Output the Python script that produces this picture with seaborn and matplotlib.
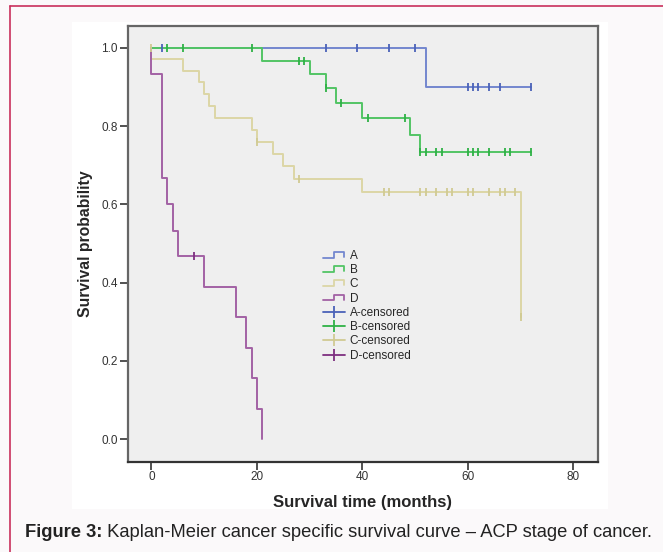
import numpy as np
import pandas as pd
import matplotlib
matplotlib.use("Agg")
import matplotlib.pyplot as plt
import seaborn as sns
from matplotlib.lines import Line2D
from matplotlib.patches import Rectangle
from matplotlib.legend_handler import HandlerBase
from matplotlib.ticker import FormatStrFormatter

# ---------------- data ----------------
groups = ["A", "B", "C", "D"]

a_times = [0, 52, 72]
a_surv = [1.0, 0.900, 0.900]
a_cens_t = [2, 33, 39, 45, 50, 60, 61, 62, 64, 66, 72]
a_cens_s = [1.0, 1.0, 1.0, 1.0, 1.0, 0.9, 0.9, 0.9, 0.9, 0.9, 0.9]

b_times = [0, 21, 30, 33, 35, 40, 49, 51, 72]
b_surv = [1.0, 0.967, 0.933, 0.897, 0.860, 0.820, 0.777, 0.733, 0.733]
b_cens_t = [3, 6, 19, 28, 29, 33, 36, 41, 48, 51, 52, 54, 55, 60, 61, 62, 64, 67, 68, 72]
b_cens_s = [1.0, 1.0, 1.0, 0.967, 0.967, 0.897, 0.860, 0.820, 0.820,
            0.733, 0.733, 0.733, 0.733, 0.733, 0.733, 0.733, 0.733, 0.733, 0.733, 0.733]

c_times = [0, 0, 6, 9, 10, 11, 12, 19, 20, 23, 25, 27, 40, 70]
c_surv = [1.0, 0.972, 0.942, 0.912, 0.882, 0.851, 0.821, 0.790, 0.760,
          0.729, 0.697, 0.664, 0.632, 0.313]
c_cens_t = [0, 20, 28, 44, 45, 51, 52, 54, 56, 57, 60, 61, 64, 66, 67, 69, 70]
c_cens_s = [1.0, 0.760, 0.664, 0.632, 0.632, 0.632, 0.632, 0.632, 0.632,
            0.632, 0.632, 0.632, 0.632, 0.632, 0.632, 0.632, 0.313]

d_times = [0, 0, 2, 3, 4, 5, 10, 16, 18, 19, 20, 21]
d_surv = [1.0, 0.933, 0.667, 0.600, 0.533, 0.467, 0.389, 0.311, 0.233, 0.156, 0.078, 0.0]
d_cens_t = [8]
d_cens_s = [0.467]

x_ticks = [0, 20, 40, 60, 80]
y_ticks = [0.0, 0.2, 0.4, 0.6, 0.8, 1.0]
legend_labels = ["A", "B", "C", "D", "A-censored", "B-censored", "C-censored", "D-censored"]

line_colors = {"A": "#7387cf", "B": "#52c465", "C": "#dcd6a6", "D": "#a262a4"}
cens_colors = {"A": "#4a62b8", "B": "#2fb146", "C": "#d0ca92", "D": "#7e2f80"}

# ---------------- build tables ----------------
curves = pd.concat([
    pd.DataFrame({"time": t, "surv": s, "group": g})
    for g, t, s in zip(groups, [a_times, b_times, c_times, d_times],
                       [a_surv, b_surv, c_surv, d_surv])
], ignore_index=True)
cens = pd.concat([
    pd.DataFrame({"time": t, "surv": s, "group": g})
    for g, t, s in zip(groups, [a_cens_t, b_cens_t, c_cens_t, d_cens_t],
                       [a_cens_s, b_cens_s, c_cens_s, d_cens_s])
], ignore_index=True)

# ---------------- figure ----------------
sns.set_style("white")
plt.rcParams["font.family"] = ["Liberation Sans", "DejaVu Sans"]

W, H = 663, 552
fig = plt.figure(figsize=(W / 100, H / 100), dpi=100)
fig.patch.set_facecolor("#fbf9fa")

# white chart panel
panel = Rectangle((72 / W, 1 - 509 / H), 536 / W, 487 / H,
                  transform=fig.transFigure, facecolor="white",
                  edgecolor="none", zorder=-10)
fig.add_artist(panel)
# pink card border (top + left)
fig.add_artist(Line2D([10 / W, 1.0], [1 - 6 / H, 1 - 6 / H], transform=fig.transFigure,
                      color="#c9305c", lw=1.2))
fig.add_artist(Line2D([10 / W, 10 / W], [0.0, 1 - 6 / H], transform=fig.transFigure,
                      color="#c9305c", lw=1.2))

ax = fig.add_axes([127.7 / W, 1 - 461.7 / H, (597.7 - 127.7) / W, (461.7 - 25.7) / H])
ax.set_zorder(1)
ax.set_facecolor("#efefef")

sns.lineplot(data=curves, x="time", y="surv", hue="group", palette=line_colors,
             estimator=None, sort=False, drawstyle="steps-post", lw=1.4,
             legend=False, ax=ax)
for g in groups:
    sub = cens[cens["group"] == g]
    sns.scatterplot(data=sub, x="time", y="surv", color=cens_colors[g], marker="|",
                    s=34, linewidth=1.3, legend=False, ax=ax, zorder=5)

ax.set_xlim(-4.5, 84.6)
ax.set_ylim(-0.058, 1.057)
ax.set_xticks(x_ticks)
ax.set_yticks(y_ticks)
ax.yaxis.set_major_formatter(FormatStrFormatter("%.1f"))
ax.tick_params(axis="both", which="major", bottom=True, left=True, top=False, right=False,
               direction="out", length=6, width=1.2, color="#333333",
               labelsize=8.5, labelcolor="#333333", pad=1)
for side, sp in ax.spines.items():
    sp.set_visible(True)
    sp.set_color("#666666")
    sp.set_linewidth(1.6)
ax.spines["bottom"].set_color("#333333")

ax.set_xlabel("Survival time (months)", fontsize=12, fontweight="bold", labelpad=8)
ax.set_ylabel("Survival probability", fontsize=11.3, fontweight="bold", labelpad=6)


# ---------------- legend ----------------
class StepHandler(HandlerBase):
    def create_artists(self, legend, orig_handle, xdescent, ydescent, width, height,
                       fontsize, trans):
        x0, y0 = -xdescent, -ydescent
        xs = [x0, x0 + 0.48 * width, x0 + 0.48 * width, x0 + 0.95 * width, x0 + 0.95 * width]
        ys = [y0 + 0.15 * height, y0 + 0.15 * height, y0 + 0.85 * height,
              y0 + 0.85 * height, y0 + 0.25 * height]
        ln = Line2D(xs, ys, color=orig_handle.get_color(), lw=orig_handle.get_linewidth())
        ln.set_transform(trans)
        return [ln]


step_handles = [Line2D([], [], color=line_colors[g], lw=1.3) for g in groups]
cens_handles = [Line2D([], [], color=cens_colors[g], lw=1.3, marker="|",
                       markersize=8, markeredgewidth=1.3) for g in groups]
handler_map = {h: StepHandler() for h in step_handles}
ax.legend(step_handles + cens_handles, legend_labels, handler_map=handler_map,
          loc="upper left", bbox_to_anchor=(323 / W, 1 - 250 / H),
          bbox_transform=fig.transFigure, frameon=False, fontsize=8.5,
          handlelength=1.9, handletextpad=0.35, labelspacing=0.19,
          borderpad=0, borderaxespad=0)

# ---------------- caption ----------------
t1 = fig.text(25 / W, 1 - 541 / H, "Figure 3:", fontsize=13.2, fontweight="bold",
              color="#222222", va="bottom", ha="left")
ax.annotate(" Kaplan-Meier cancer specific survival curve \u2013 ACP stage of cancer.",
            xy=(1, 0), xycoords=t1, va="bottom", ha="left", fontsize=13.2,
            color="#222222", annotation_clip=False)

fig.savefig("out.png", dpi=100, facecolor=fig.get_facecolor())
